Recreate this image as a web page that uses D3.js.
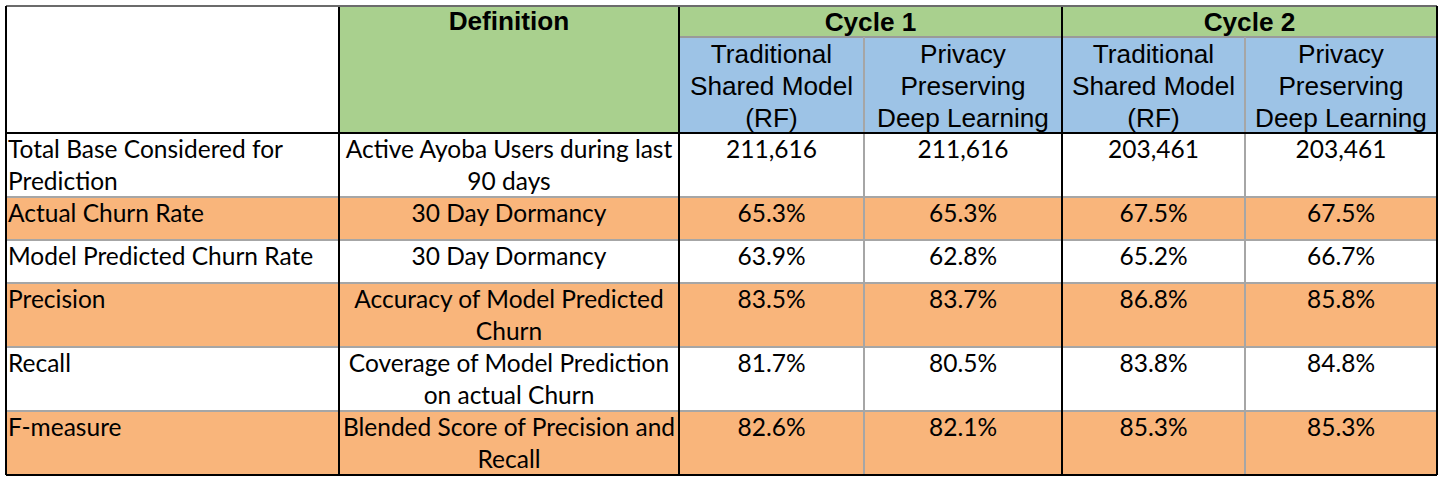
<!DOCTYPE html>
<html><head><meta charset="utf-8">
<script src="https://cdn.jsdelivr.net/npm/d3@7/dist/d3.min.js"></script>
<style>html,body{margin:0;padding:0;background:#fff;overflow:hidden}</style>
</head><body><svg id="c" width="1442" height="481"></svg>
<script>
// ---------- data ----------
const headerDefinition = "Definition";
const cycles = ["Cycle 1", "Cycle 2"];
const models = ["Traditional\nShared Model\n(RF)", "Privacy\nPreserving\nDeep Learning"];
const rowLabels = ["Total Base Considered for\nPrediction", "Actual Churn Rate", "Model Predicted Churn Rate", "Precision", "Recall", "F-measure"];
const definitions = ["Active Ayoba Users during last\n90 days", "30 Day Dormancy", "30 Day Dormancy", "Accuracy of Model Predicted\nChurn", "Coverage of Model Prediction\non actual Churn", "Blended Score of Precision and\nRecall"];
const cycle1RF = [211616, 65.3, 63.9, 83.5, 81.7, 82.6];
const cycle1PP = [211616, 65.3, 62.8, 83.7, 80.5, 82.1];
const cycle2RF = [203461, 67.5, 65.2, 86.8, 83.8, 85.3];
const cycle2PP = [203461, 67.5, 66.7, 85.8, 84.8, 85.3];
const rowShaded = [false, true, false, true, false, true];

// ---------- layout ----------
const colKeys = ["label", "def", "c1rf", "c1pp", "c2rf", "c2pp", "end"];
const x = d3.scaleOrdinal().domain(colKeys).range([6, 339, 679, 864, 1062, 1245, 1437]);
const rowKeys = ["top", "sub", "h", "r0", "r1", "r2", "r3", "r4", "r5", "end"];
const y = d3.scaleOrdinal().domain(rowKeys).range([6, 37, 6, 133, 197, 240, 283, 347, 411, 475]);
const dataRowKeys = ["r0", "r1", "r2", "r3", "r4", "r5"];
const nextRow = k => rowKeys[rowKeys.indexOf(k) + 1];
const nextCol = k => colKeys[colKeys.indexOf(k) + 1];

const C = { green: "#A9D08E", blue: "#9DC3E6", orange: "#F9B57B", white: "#FFFFFF" };
const bodyFont = "Lato, 'Open Sans', sans-serif";
const headFont = "'Liberation Sans', Arial, sans-serif";
const BODY_SIZE = 24.5;
const HEAD_SIZE = 26.2;

const svg = d3.select("#c");
const gFill = svg.append("g"), gLine = svg.append("g"), gText = svg.append("g");

const fmt = (v, i) => i === 0 ? d3.format(",")(v) : d3.format(".1f")(v) + "%";
const valueCols = [["c1rf", cycle1RF], ["c1pp", cycle1PP], ["c2rf", cycle2RF], ["c2pp", cycle2PP]];

// header fills
gFill.append("rect").attr("x", x("label")).attr("y", y("top")).attr("width", x("def") - x("label")).attr("height", y("r0") - y("top")).attr("fill", C.white);
gFill.append("rect").attr("x", x("def")).attr("y", y("top")).attr("width", x("c1rf") - x("def")).attr("height", y("r0") - y("top")).attr("fill", C.green);
gFill.append("rect").attr("x", x("c1rf")).attr("y", y("top")).attr("width", x("end") - x("c1rf")).attr("height", y("sub") - y("top")).attr("fill", C.green);
gFill.append("rect").attr("x", x("c1rf")).attr("y", y("sub")).attr("width", x("end") - x("c1rf")).attr("height", y("r0") - y("sub")).attr("fill", C.blue);

// data row fills
gFill.selectAll("rect.row").data(dataRowKeys).join("rect").attr("class", "row")
  .attr("x", x("label")).attr("y", d => y(d)).attr("width", x("end") - x("label"))
  .attr("height", d => y(nextRow(d)) - y(d))
  .attr("fill", (d, i) => rowShaded[i] ? C.orange : C.white);

// lines
function line(x1, y1, x2, y2, color, w) {
  gLine.append("line").attr("x1", x1).attr("y1", y1).attr("x2", x2).attr("y2", y2)
    .attr("stroke", color).attr("stroke-width", w).attr("shape-rendering", "crispEdges");
}
dataRowKeys.slice(1).forEach(k => line(x("label"), y(k), x("end"), y(k), "#A6A6A6", 1.5));
line(x("c1rf"), y("sub"), x("end"), y("sub"), "#9a9a9a", 1.5);
["c1pp", "c2pp"].forEach(k => line(x(k), y("sub"), x(k), y("end"), "#A6A6A6", 1.5));
["def", "c1rf", "c2rf"].forEach(k => line(x(k), y("top"), x(k), y("end"), "#000", 1.5));
line(x("label"), y("top"), x("end"), y("top"), "#6b6b6b", 1.5);
line(x("label"), y("r0"), x("end"), y("r0"), "#000", 1.5);
line(x("label"), y("end"), x("end"), y("end"), "#000", 2);
line(x("label"), y("top"), x("label"), y("end"), "#000", 2);
line(x("end"), y("top"), x("end"), y("end"), "#000", 2);

function multiText(tx, ty, str, anchor, font, size, weight, lh) {
  const t = gText.append("text").attr("x", tx).attr("y", ty).attr("text-anchor", anchor)
    .attr("font-family", font).attr("font-size", size).attr("font-weight", weight).attr("fill", "#000");
  str.split("\n").forEach((s, i) => t.append("tspan").attr("x", tx).attr("dy", i === 0 ? 0 : lh).text(s));
  return t;
}

multiText((x("def") + x("c1rf")) / 2, y("top") + 24, headerDefinition, "middle", headFont, HEAD_SIZE, "bold", 32);
cycles.forEach((c, i) => {
  const a = i === 0 ? "c1rf" : "c2rf", b = i === 0 ? "c2rf" : "end";
  multiText((x(a) + x(b)) / 2, y("top") + 25, c, "middle", headFont, HEAD_SIZE, "bold", 32);
});
["c1rf", "c1pp", "c2rf", "c2pp"].forEach((k, i) => {
  multiText((x(k) + x(nextCol(k))) / 2, y("sub") + 26, models[i % 2], "middle", headFont, HEAD_SIZE, "normal", 32);
});

dataRowKeys.forEach((rk, i) => {
  const ty = y(rk) + 25;
  multiText(x("label") + 2, ty, rowLabels[i], "start", bodyFont, BODY_SIZE, "normal", 32);
  multiText((x("def") + x("c1rf")) / 2, ty, definitions[i], "middle", bodyFont, BODY_SIZE, "normal", 32);
  valueCols.forEach(([k, arr]) => {
    multiText((x(k) + x(nextCol(k))) / 2, ty, fmt(arr[i], i), "middle", bodyFont, BODY_SIZE, "normal", 32);
  });
});
</script></body></html>
